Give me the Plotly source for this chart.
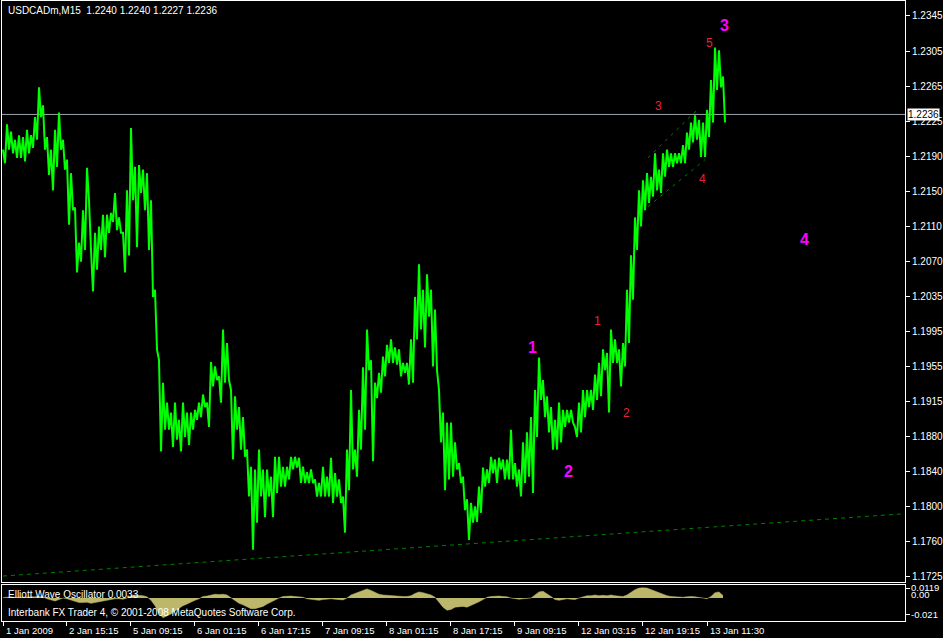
import plotly.graph_objects as go
import numpy as np

# ---------------- data (hourly high / low of the M15 series) ----------------
high = [1.2197, 1.2225, 1.2217, 1.2208, 1.2213, 1.2211, 1.2219, 1.2213, 1.2233, 1.2266,
        1.2246, 1.2211, 1.2197, 1.2219, 1.2238, 1.2208, 1.2186, 1.2171, 1.2133, 1.2094,
        1.2130, 1.2177, 1.2086, 1.2105, 1.2112, 1.2125, 1.2125, 1.2127, 1.2149, 1.2122,
        1.2105, 1.2152, 1.2221, 1.2178, 1.2180, 1.2175, 1.2171, 1.2141, 1.2042, 1.1964,
        1.1939, 1.1917, 1.1906, 1.1917, 1.1898, 1.1917, 1.1906, 1.1906, 1.1909, 1.1917,
        1.1926, 1.1917, 1.1962, 1.1957, 1.1946, 1.1998, 1.1983, 1.1931, 1.1924, 1.1912,
        1.1901, 1.1865, 1.1846, 1.1843, 1.1865, 1.1843, 1.1843, 1.1835, 1.1857, 1.1857,
        1.1846, 1.1846, 1.1857, 1.1857, 1.1856, 1.1846, 1.1840, 1.1843, 1.1832, 1.1828,
        1.1846, 1.1835, 1.1856, 1.1839, 1.1832, 1.1813, 1.1865, 1.1931, 1.1865, 1.1909,
        1.1956, 1.1998, 1.1964, 1.1939, 1.1950, 1.1968, 1.1981, 1.1987, 1.1978, 1.1976,
        1.1961, 1.1961, 1.1987, 1.2034, 1.2070, 1.2042, 1.2059, 1.2042, 1.2020, 1.1931,
        1.1906, 1.1895, 1.1895, 1.1873, 1.1850, 1.1835, 1.1810, 1.1806, 1.1802, 1.1824,
        1.1845, 1.1843, 1.1857, 1.1854, 1.1856, 1.1854, 1.1854, 1.1887, 1.1850, 1.1843,
        1.1873, 1.1884, 1.1901, 1.1931, 1.1967, 1.1942, 1.1924, 1.1912, 1.1898, 1.1917,
        1.1909, 1.1909, 1.1909, 1.1890, 1.1917, 1.1931, 1.1931, 1.1931, 1.1948, 1.1961,
        1.1976, 1.1972, 1.1998, 1.1987, 1.1976, 1.1983, 1.2042, 1.2080, 1.2122, 1.2152,
        1.2163, 1.2171, 1.2167, 1.2193, 1.2175, 1.2193, 1.2197, 1.2193, 1.2193, 1.2193,
        1.2202, 1.2216, 1.2227, 1.2235, 1.2230, 1.2227, 1.2241, 1.2274, 1.2310, 1.2307,
        1.2278]

low = [1.2182, 1.2197, 1.2193, 1.2188, 1.2188, 1.2184, 1.2193, 1.2199, 1.2208, 1.2233,
       1.2197, 1.2169, 1.2152, 1.2178, 1.2197, 1.2175, 1.2114, 1.2130, 1.2061, 1.2073,
       1.2086, 1.2141, 1.2040, 1.2064, 1.2086, 1.2078, 1.2105, 1.2117, 1.2108, 1.2105,
       1.2061, 1.2080, 1.2141, 1.2089, 1.2149, 1.2130, 1.2086, 1.2034, 1.1976, 1.1863,
       1.1887, 1.1887, 1.1868, 1.1876, 1.1863, 1.1879, 1.1870, 1.1887, 1.1898, 1.1901,
       1.1912, 1.1890, 1.1935, 1.1942, 1.1917, 1.1939, 1.1942, 1.1854, 1.1887, 1.1865,
       1.1857, 1.1813, 1.1754, 1.1784, 1.1813, 1.1790, 1.1813, 1.1790, 1.1817, 1.1824,
       1.1824, 1.1832, 1.1843, 1.1845, 1.1828, 1.1828, 1.1828, 1.1828, 1.1813, 1.1813,
       1.1813, 1.1813, 1.1806, 1.1813, 1.1806, 1.1773, 1.1820, 1.1843, 1.1835, 1.1865,
       1.1887, 1.1953, 1.1852, 1.1922, 1.1928, 1.1946, 1.1961, 1.1961, 1.1959, 1.1946,
       1.1950, 1.1937, 1.1939, 1.1987, 1.1998, 1.1978, 1.2012, 1.1957, 1.1953, 1.1873,
       1.1820, 1.1832, 1.1835, 1.1843, 1.1828, 1.1798, 1.1765, 1.1784, 1.1785, 1.1795,
       1.1824, 1.1828, 1.1839, 1.1828, 1.1843, 1.1832, 1.1832, 1.1832, 1.1824, 1.1813,
       1.1828, 1.1835, 1.1817, 1.1879, 1.1920, 1.1901, 1.1884, 1.1865, 1.1865, 1.1873,
       1.1890, 1.1895, 1.1895, 1.1879, 1.1884, 1.1901, 1.1912, 1.1909, 1.1920, 1.1924,
       1.1953, 1.1906, 1.1961, 1.1961, 1.1935, 1.1957, 1.1983, 1.2031, 1.2086, 1.2112,
       1.2130, 1.2138, 1.2145, 1.2152, 1.2149, 1.2167, 1.2178, 1.2178, 1.2182, 1.2182,
       1.2182, 1.2197, 1.2205, 1.2208, 1.2189, 1.2189, 1.2211, 1.2227, 1.2263, 1.2266,
       1.2227]

# Elliott Wave Oscillator (hourly)
ewo = [0.0005, 0.001, 0.0015, 0.001, 0.001, 0.0012, 0.001, 0.001, 0.0015, 0.002,
       0.0015, -0.001, -0.003, -0.004, -0.002, 0.0, -0.001, -0.003, -0.005, -0.006,
       -0.006, -0.0055, -0.007, -0.006, -0.004, -0.003, -0.002, -0.0015, -0.001, -0.001,
       -0.0015, 0.0, 0.003, 0.004, 0.0035, 0.003, 0.0015, -0.003, -0.010, -0.020,
       -0.026, -0.024, -0.021, -0.017, -0.013, -0.010, -0.008, -0.005, -0.003, -0.001,
       0.002, 0.0025, 0.004, 0.005, 0.0045, 0.005, 0.004, 0.0, -0.004, -0.007,
       -0.009, -0.012, -0.014, -0.014, -0.013, -0.011, -0.008, -0.005, -0.003, 0.0,
       0.002, 0.0025, 0.0025, 0.002, 0.0015, 0.001, -0.001, -0.002, -0.003, -0.003,
       -0.002, -0.0015, -0.001, -0.0015, -0.002, -0.0025, 0.0, 0.004, 0.006, 0.008,
       0.011, 0.012, 0.010, 0.007, 0.005, 0.004, 0.0035, 0.003, 0.003, 0.0025,
       0.002, 0.002, 0.003, 0.006, 0.008, 0.007, 0.006, 0.004, 0.001, -0.005,
       -0.012, -0.016, -0.015, -0.012, -0.011, -0.011, -0.012, -0.010, -0.008, -0.005,
       -0.002, 0.001, 0.002, 0.0025, 0.0025, 0.002, 0.0015, 0.0, -0.001, -0.0015,
       -0.001, -0.0005, 0.0, 0.004, 0.008, 0.009, 0.006, 0.002, -0.002, -0.003,
       -0.002, -0.001, -0.0015, -0.002, 0.0, 0.002, 0.003, 0.003, 0.004, 0.003,
       0.0035, 0.003, 0.004, 0.003, 0.0025, 0.002, 0.004, 0.008, 0.011, 0.013,
       0.0135, 0.013, 0.011, 0.009, 0.006, 0.004, 0.003, 0.002, 0.0015, 0.001,
       0.001, 0.0015, 0.002, 0.0015, 0.001, 0.0, -0.001, 0.002, 0.007, 0.008,
       0.0033]

BARS_PER_HOUR = 4  # M15 bars

# time axis labels (bar index, label)
time_tick_bars = [0, 63, 127, 191, 255, 319, 383, 447, 511, 575, 639, 704]
time_tick_labels = ["1 Jan 2009", "2 Jan 15:15", "5 Jan 09:15", "6 Jan 01:15", "6 Jan 17:15",
                    "7 Jan 09:15", "8 Jan 01:15", "8 Jan 17:15", "9 Jan 09:15", "12 Jan 03:15",
                    "12 Jan 19:15", "13 Jan 11:30"]

price_tick_labels = ["1.2345", "1.2305", "1.2265", "1.2225", "1.2190", "1.2150", "1.2110",
                     "1.2070", "1.2035", "1.1995", "1.1955", "1.1915", "1.1880", "1.1840",
                     "1.1800", "1.1760", "1.1725"]
price_tick_top, price_tick_bottom = 1.2345, 1.1725

current_price = 1.2236
title_text = "USDCADm,M15\u00a0\u00a01.2240 1.2240 1.2227 1.2236"

# Elliott wave labels
major_wave_text = ["1", "2", "3", "4"]
major_wave_bar = [529, 565, 721, 801]
major_wave_price = [1.1978, 1.1841, 1.2335, 1.2098]
minor_wave_text = ["1", "2", "3", "4", "5"]
minor_wave_bar = [594, 623, 655, 699, 706]
minor_wave_price = [1.2007, 1.1905, 1.2245, 1.2165, 1.2315]

# trend lines (bar index, price)
trend_long_bar = [0, 902]
trend_long_price = [1.1725, 1.1794]
channel_up_bar = [645, 694]
channel_up_price = [1.2188, 1.2241]
channel_dn_bar = [645, 702]
channel_dn_price = [1.2134, 1.2186]

osc_labels = ["0.0119", "0.00", "-0.021"]
osc_label_vals = [0.0119, 0.0, -0.021]

# ---------------- figure ----------------
FONT = "Liberation Sans"
X_RANGE = [-1, 902]
Y_RANGE = [1.17184, 1.23616]
OSC_RANGE = [-0.0302, 0.0171]

zig_x, zig_y = [], []
for i, (h, l) in enumerate(zip(high, low)):
    zig_x += [BARS_PER_HOUR * i, BARS_PER_HOUR * i + 2]
    zig_y += [h, l]

osc_x = [BARS_PER_HOUR * i for i in range(len(ewo))]

fig = go.Figure()

fig.add_trace(go.Scatter(x=trend_long_bar, y=trend_long_price, mode="lines",
                         line=dict(color="#008000", width=1, dash="4px,4px"),
                         xaxis="x", yaxis="y", hoverinfo="skip"))
fig.add_trace(go.Scatter(x=channel_up_bar, y=channel_up_price, mode="lines",
                         line=dict(color="#008000", width=1, dash="3px,5px"),
                         xaxis="x", yaxis="y", hoverinfo="skip"))
fig.add_trace(go.Scatter(x=channel_dn_bar, y=channel_dn_price, mode="lines",
                         line=dict(color="#008000", width=1, dash="3px,5px"),
                         xaxis="x", yaxis="y", hoverinfo="skip"))
fig.add_trace(go.Scatter(x=X_RANGE, y=[current_price, current_price], mode="lines",
                         line=dict(color="#9ca3ab", width=1), xaxis="x", yaxis="y",
                         hoverinfo="skip"))
fig.add_trace(go.Scatter(x=zig_x, y=zig_y, mode="lines",
                         line=dict(color="#00ff00", width=2), xaxis="x", yaxis="y"))
fig.add_trace(go.Scatter(x=osc_x, y=ewo, mode="lines", fill="tozeroy",
                         fillcolor="#BDB76B", line=dict(color="#BDB76B", width=0.5),
                         xaxis="x2", yaxis="y2"))

H_PLOT = 620.0
main_bottom = 39 / H_PLOT
osc_top = 36 / H_PLOT

price_tickvals = list(np.linspace(price_tick_top, price_tick_bottom, len(price_tick_labels)))

axis_common = dict(showgrid=False, zeroline=False, showline=True, mirror=True,
                   linecolor="white", linewidth=1)

fig.update_layout(
    width=943, height=638,
    margin=dict(l=2, r=38, t=1, b=17, pad=0),
    paper_bgcolor="black", plot_bgcolor="black",
    showlegend=False,
    font=dict(family=FONT, color="white", size=10),
    xaxis=dict(domain=[0, 1], range=X_RANGE, anchor="y", showticklabels=False,
               ticks="", **axis_common),
    yaxis=dict(domain=[main_bottom, 1], range=Y_RANGE, side="right", anchor="x",
               tickvals=price_tickvals, ticktext=price_tick_labels, ticks="outside",
               ticklen=4, tickcolor="white", tickfont=dict(family=FONT, size=10, color="white"),
               **axis_common),
    xaxis2=dict(domain=[0, 1], range=X_RANGE, anchor="y2", matches="x",
                tickvals=time_tick_bars, ticks="outside", ticklen=4, tickcolor="white",
                showticklabels=False, **axis_common),
    yaxis2=dict(domain=[0, osc_top], range=OSC_RANGE, side="right", anchor="x2",
                tickvals=[osc_label_vals[0], osc_label_vals[2]], ticks="outside", ticklen=4,
                tickcolor="white", showticklabels=False, **axis_common),
)

ann = []
# title
ann.append(dict(xref="paper", yref="paper", x=0, y=1 - 9 / H_PLOT, xanchor="left",
                yanchor="middle", xshift=4, text=title_text, showarrow=False,
                font=dict(family=FONT, size=10, color="white")))
# oscillator captions
ann.append(dict(xref="paper", yref="paper", x=0, y=(621 - 594) / H_PLOT, xanchor="left",
                yanchor="middle", xshift=4, text="Elliott Wave Oscillator 0.0033",
                showarrow=False, font=dict(family=FONT, size=10, color="white")))
ann.append(dict(xref="paper", yref="paper", x=0, y=(621 - 612) / H_PLOT, xanchor="left",
                yanchor="middle", xshift=4,
                text="Interbank FX Trader 4, © 2001-2008 MetaQuotes Software Corp.",
                showarrow=False, font=dict(family=FONT, size=10, color="white")))
# time labels
for b, t in zip(time_tick_bars, time_tick_labels):
    ann.append(dict(xref="x2", yref="paper", x=b, y=0, xanchor="left", yanchor="top",
                    xshift=1, yshift=-2, text=t, showarrow=False,
                    font=dict(family=FONT, size=9.5, color="white")))
# oscillator scale labels
osc_shift = [1, 4, 0]
for v, t, s in zip(osc_label_vals, osc_labels, osc_shift):
    ann.append(dict(xref="paper", yref="y2", x=1, y=v, xanchor="left", yanchor="middle",
                    xshift=4, yshift=s, text=t, showarrow=False,
                    font=dict(family=FONT, size=9.5, color="white")))
# current price box
ann.append(dict(xref="paper", yref="y", x=1, y=current_price, xanchor="left",
                yanchor="middle", xshift=2, text=f"{current_price:.4f}", showarrow=False,
                bgcolor="white", borderpad=0,
                font=dict(family=FONT, size=10, color="black")))
# wave labels
for t, b, p in zip(major_wave_text, major_wave_bar, major_wave_price):
    ann.append(dict(xref="x", yref="y", x=b, y=p, text=f"<b>{t}</b>", showarrow=False,
                    font=dict(family=FONT, size=16, color="#ff00ff")))
for t, b, p in zip(minor_wave_text, minor_wave_bar, minor_wave_price):
    ann.append(dict(xref="x", yref="y", x=b, y=p, text=t, showarrow=False,
                    font=dict(family=FONT, size=12, color="#e8203c")))

fig.update_layout(annotations=ann)

fig.write_html("out.html", config={"displayModeBar": False},
               post_script="document.body.style.margin='0';document.body.style.padding='0';"
                           "window.dispatchEvent(new Event('resize'));")
